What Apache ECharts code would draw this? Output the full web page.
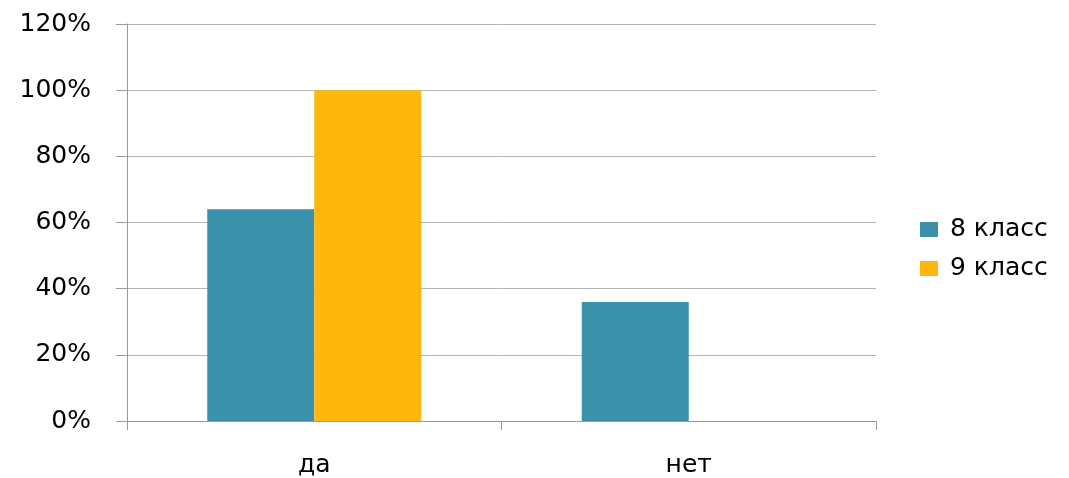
<!DOCTYPE html>
<html><head><meta charset="utf-8">
<script src="https://cdn.jsdelivr.net/npm/echarts@6/dist/echarts.min.js"></script>
<style>html,body{margin:0;padding:0;background:#fff}#c{width:1069px;height:478px}</style>
</head><body><div id="c"></div>
<script>
var categories = ['да', 'нет'];
var seriesNames = ['8 класс', '9 класс'];
var class8 = [64, 36];
var class9 = [100, 0];
var yTicks = [0, 20, 40, 60, 80, 100, 120];

var font = '"DejaVu Sans", "Open Sans", sans-serif';
var chart = echarts.init(document.getElementById('c'));
chart.setOption({
  animation: false,
  color: ['#3A91A9', '#FDB70D'],
  grid: { left: 127, right: 193, top: 24, bottom: 55, containLabel: false },
  legend: {
    orient: 'vertical', left: 915, top: 212,
    itemWidth: 18, itemHeight: 15, itemGap: 14,
    icon: 'rect',
    textStyle: { fontFamily: font, fontSize: 25, color: '#000', padding: [0, 0, 0, 7] },
    data: seriesNames
  },
  xAxis: {
    type: 'category', data: categories,
    axisLine: { show: true, lineStyle: { color: '#9a9a9a', width: 1 } },
    axisTick: { show: true, length: 9, lineStyle: { color: '#9a9a9a' } },
    axisLabel: { fontFamily: font, fontSize: 25, color: '#000', margin: 32 }
  },
  yAxis: {
    type: 'value', min: 0, max: 120, interval: 20,
    axisLine: { show: true, lineStyle: { color: '#9a9a9a', width: 1 } },
    axisTick: { show: true, length: 11, lineStyle: { color: '#9a9a9a' } },
    splitLine: { show: true, lineStyle: { color: '#b4b4b4', width: 1 } },
    axisLabel: { fontFamily: font, fontSize: 25, color: '#000', margin: 36,
      formatter: function (v) { return yTicks.indexOf(v) >= 0 ? v + '%' : ''; } }
  },
  series: [
    { name: seriesNames[0], type: 'bar', data: class8, barWidth: 107, barGap: '0%' },
    { name: seriesNames[1], type: 'bar', data: class9, barWidth: 107, barGap: '0%' }
  ]
});
</script></body></html>
